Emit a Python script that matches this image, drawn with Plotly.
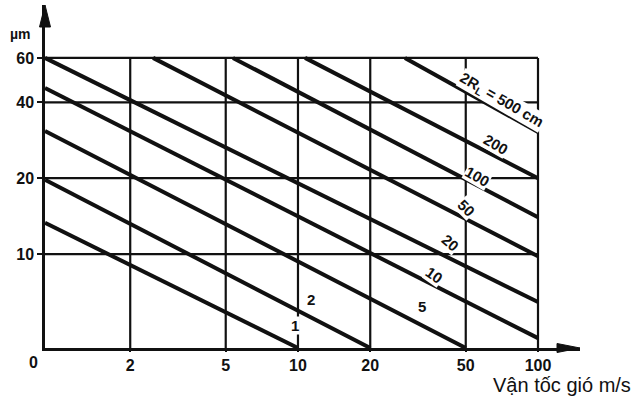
import numpy as np
import plotly.graph_objects as go

# Axis ticks: wind speed (m/s) and droplet size (µm)
speed_ticks = [2, 5, 10, 20, 50, 100]
size_ticks = [10, 20, 40, 60]

# Origin of both axes (labelled "0")
speed_origin = 0.883
size_origin = 4.24

# Lines of constant 2R_L: start and end points as (wind speed, size)
line_names = ["1", "2", "5", "10", "20", "50", "100", "200", "500"]
start_speed = [speed_origin, speed_origin, speed_origin, speed_origin, speed_origin, 2.49, 5.36, 10.7, 27.9]
start_size = [13.3, 19.7, 30.8, 45.6, 60, 60, 60, 60, 60]
end_speed = [10, 20, 50, 100, 100, 100, 100, 100, 100]
end_size = [size_origin, size_origin, size_origin, 4.64, 6.45, 9.8, 14.0, 20.0, 30.5]

# Line labels and where they sit (wind speed, size, rotation)
label_text = ["1", "2", "5", "10", "20", "50", "100", "200", "2R<sub>L</sub> = 500 cm"]
label_speed = [9.7, 11.3, 32.9, 37.2, 43, 50.6, 56, 66.8, 70.8]
label_size = [5.2, 6.6, 6.2, 8.25, 11.1, 15.2, 20.4, 27.1, 40.8]
label_angle = [0, 0, 0, 35, 40, 45, 30, 30, 30]

W, H = 642, 406
M_L, M_R, M_T, M_B = 45, 62, 5, 58
X_RANGE = [np.log10(speed_origin), 2.175]
Y_RANGE = [np.log10(size_origin), 1.988]
INK = "#111111"
FONT = "Liberation Sans, Arial, sans-serif"

plot_w = W - M_L - M_R
plot_h = H - M_T - M_B


def paper(px, py):
    """Page pixel -> paper fraction."""
    return (px - M_L) / plot_w, (H - M_B - py) / plot_h


fig = go.Figure()

# grid: horizontal lines up to 100 m/s, vertical lines up to 60 µm
for s in size_ticks:
    fig.add_trace(go.Scatter(x=[speed_origin, 100], y=[s, s], mode="lines",
                             line=dict(color=INK, width=2.2), hoverinfo="skip"))
for v in speed_ticks:
    fig.add_trace(go.Scatter(x=[v, v], y=[size_origin, 60], mode="lines",
                             line=dict(color=INK, width=2.2), hoverinfo="skip"))

# constant 2R_L lines
for name, x0, y0, x1, y1 in zip(line_names, start_speed, start_size, end_speed, end_size):
    fig.add_trace(go.Scatter(x=[x0, x1], y=[y0, y1], mode="lines", name=name,
                             line=dict(color=INK, width=4)))

annotations = []
for t, xs, ys, ang in zip(label_text, label_speed, label_size, label_angle):
    annotations.append(dict(
        x=np.log10(xs), y=np.log10(ys), xref="x", yref="y", text=t,
        showarrow=False, textangle=ang, bgcolor="white", borderpad=0,
        xanchor="center", yanchor="middle",
        font=dict(family=FONT, size=15, color=INK, weight="bold"),
    ))

# axis captions
ox, oy = paper(33, 362)
annotations.append(dict(x=ox, y=oy, xref="paper", yref="paper", text="0", showarrow=False,
                        xanchor="center", yanchor="middle",
                        font=dict(family=FONT, size=16, color=INK, weight="bold")))
ux, uy = paper(20, 34)
annotations.append(dict(x=ux, y=uy, xref="paper", yref="paper", text="µm", showarrow=False,
                        xanchor="center", yanchor="middle",
                        font=dict(family=FONT, size=14, color=INK, weight="bold")))
tx, ty = paper(562, 385)
annotations.append(dict(x=tx, y=ty, xref="paper", yref="paper", text="Vận tốc gió m/s",
                        showarrow=False, xanchor="center", yanchor="middle",
                        font=dict(family=FONT, size=20, color=INK)))

# arrowheads on the axes
ax_tip = paper(45, 5)
ax_l = paper(39.5, 27)
ax_r = paper(50.5, 27)
bx_tip = paper(580, 348)
bx_u = paper(557, 343.5)
bx_d = paper(557, 352.5)
shapes = [
    dict(type="path", xref="paper", yref="paper",
         path=f"M {ax_tip[0]},{ax_tip[1]} L {ax_l[0]},{ax_l[1]} L {ax_r[0]},{ax_r[1]} Z",
         fillcolor=INK, line=dict(color=INK, width=1)),
    dict(type="path", xref="paper", yref="paper",
         path=f"M {bx_tip[0]},{bx_tip[1]} L {bx_u[0]},{bx_u[1]} L {bx_d[0]},{bx_d[1]} Z",
         fillcolor=INK, line=dict(color=INK, width=1)),
]

axis_common = dict(
    type="log", showgrid=False, zeroline=False, showline=True, linecolor=INK,
    linewidth=2.5, ticks="outside", tickcolor=INK, tickwidth=2,
    tickfont=dict(family=FONT, size=16, color=INK, weight="bold"),
)

fig.update_layout(
    width=W, height=H, margin=dict(l=M_L, r=M_R, t=M_T, b=M_B),
    paper_bgcolor="white", plot_bgcolor="white", showlegend=False,
    xaxis=dict(range=X_RANGE, tickvals=speed_ticks, ticktext=[str(v) for v in speed_ticks],
               ticklen=1, **axis_common),
    yaxis=dict(range=Y_RANGE, tickvals=size_ticks, ticktext=[str(v) for v in size_ticks],
               ticklen=5, **axis_common),
    annotations=annotations, shapes=shapes,
)

fig.write_html("out.html")
